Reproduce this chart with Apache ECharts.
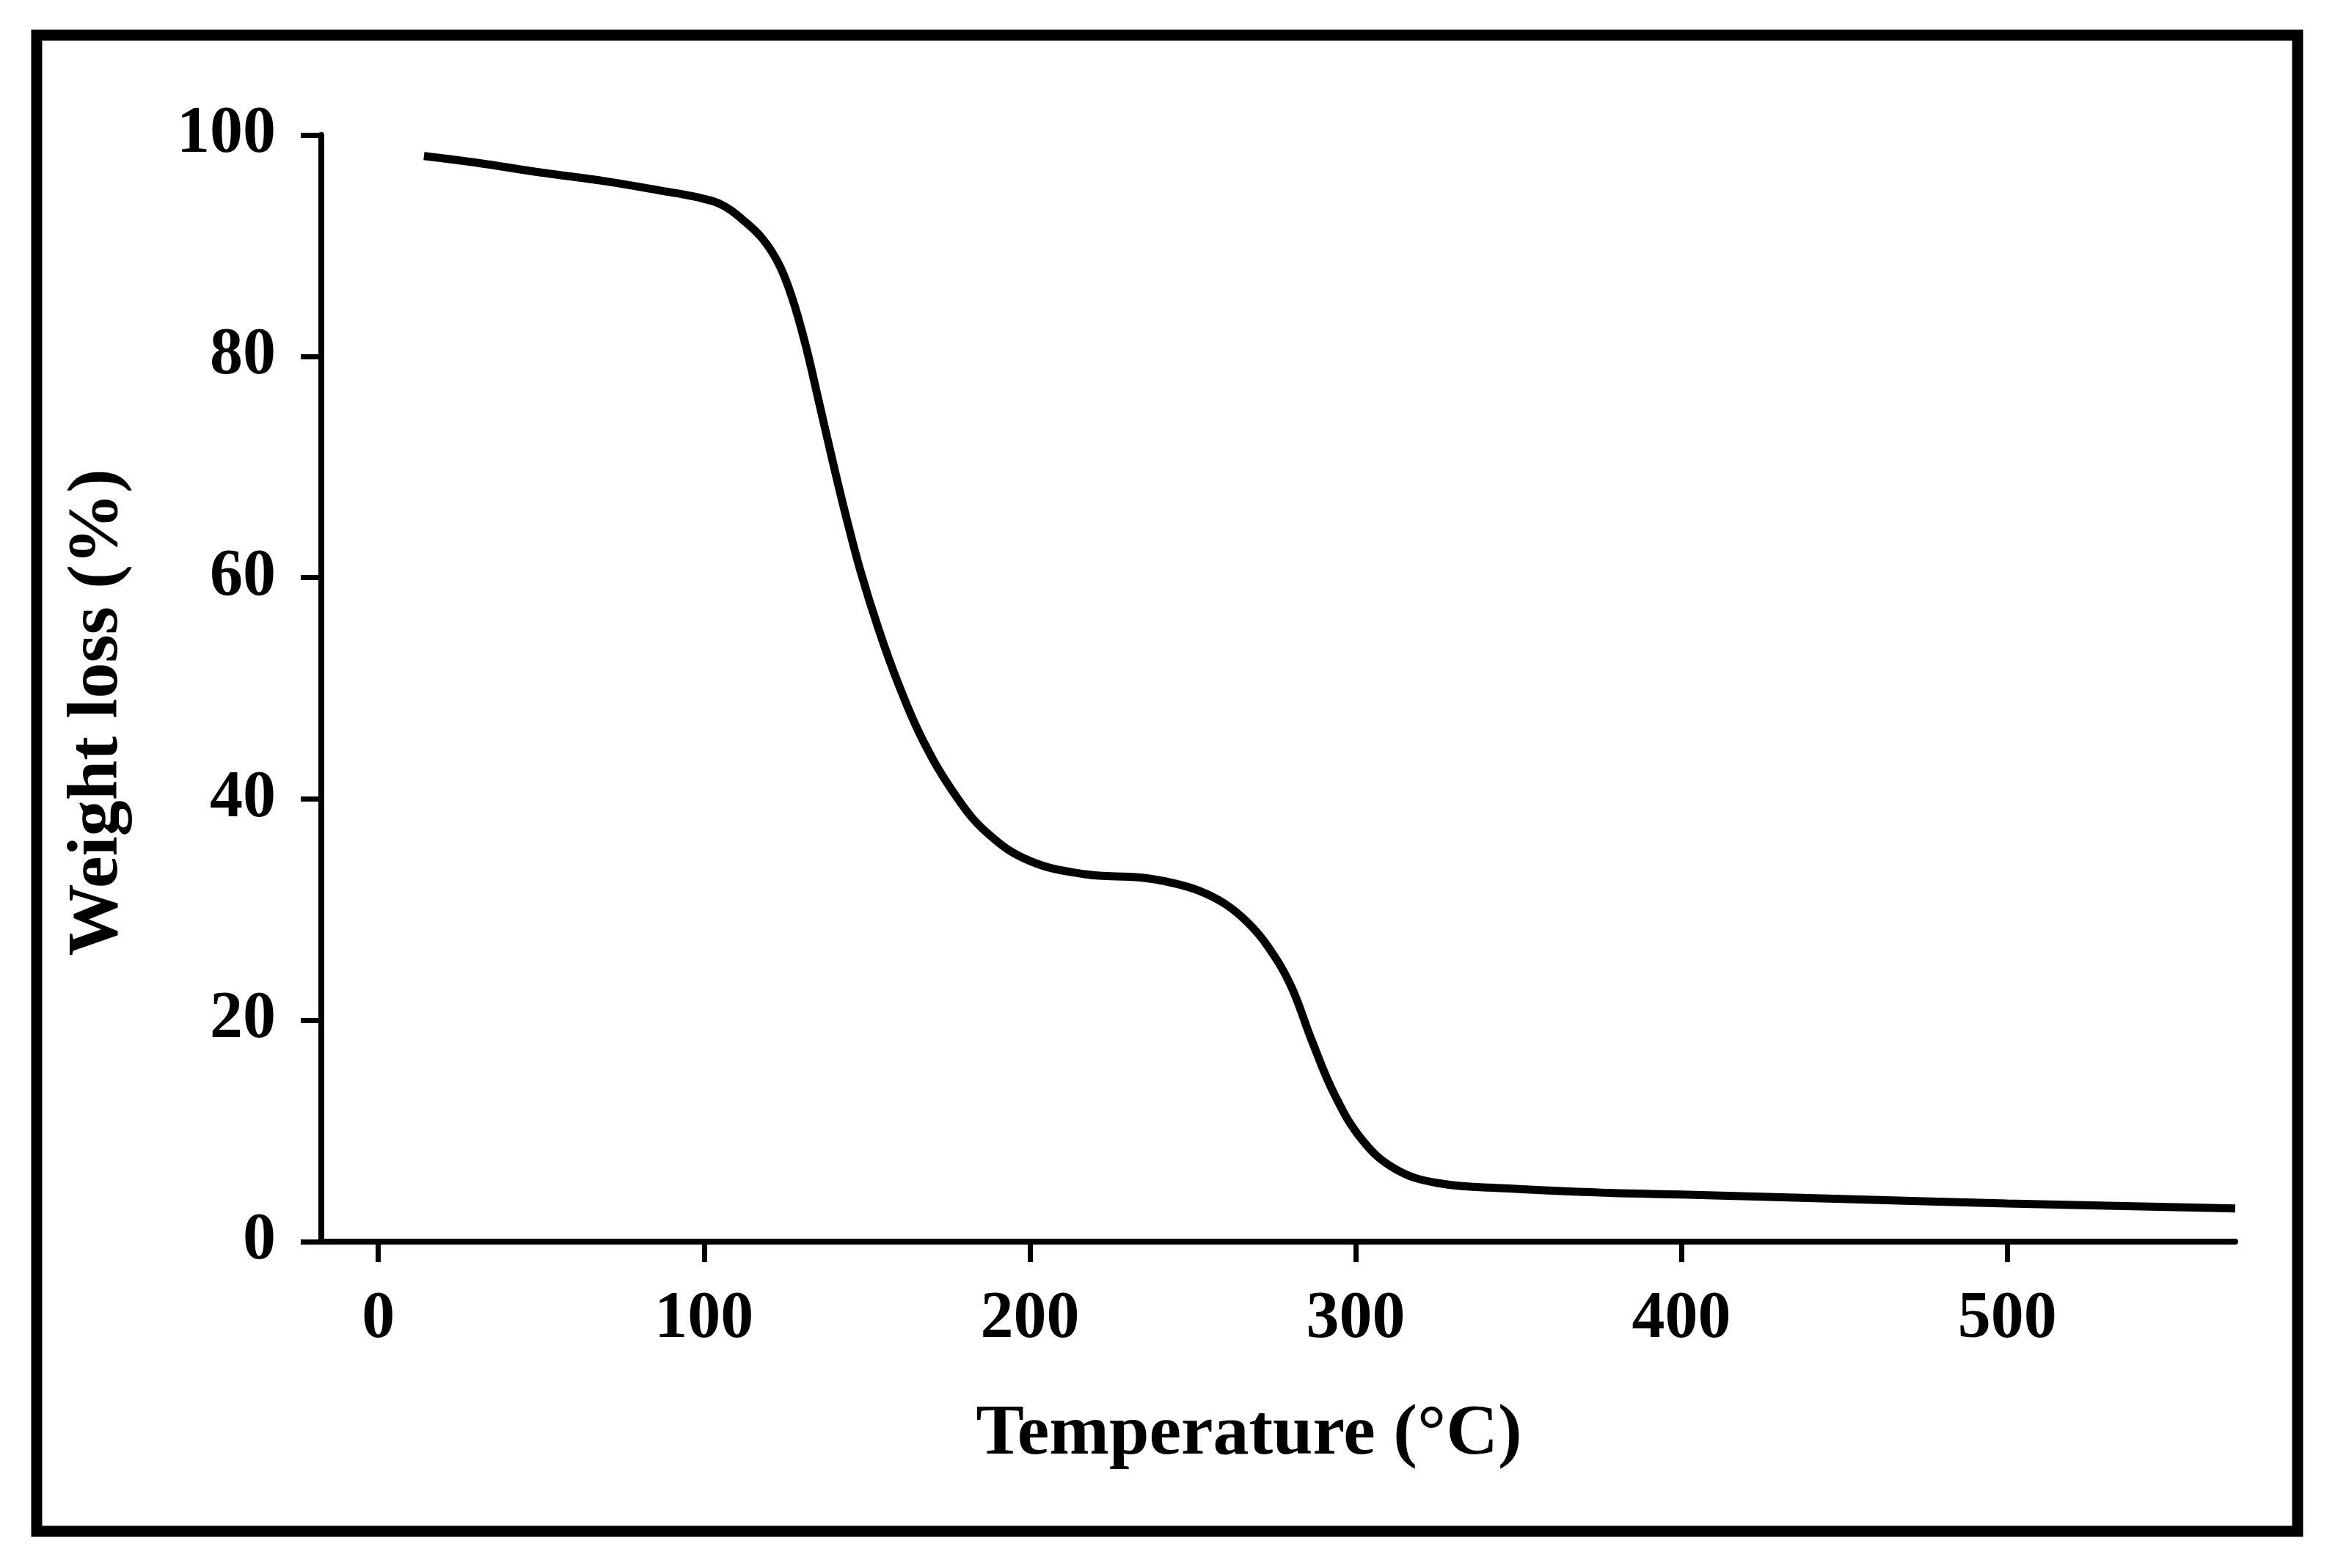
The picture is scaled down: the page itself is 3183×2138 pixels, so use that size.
<!DOCTYPE html>
<html>
<head>
<meta charset="utf-8">
<script src="https://cdn.jsdelivr.net/npm/echarts@6/dist/echarts.min.js"></script>
<style>
html,body{margin:0;padding:0;background:#fff;}
#chart{width:3183px;height:2138px;}
</style>
</head>
<body>
<div id="chart"></div>
<script>
// Temperature (°C)
var temperature = [14, 30, 50, 70, 86, 99, 106, 112, 118, 123, 127, 131, 135, 139, 143, 148, 153.5, 159.5, 167, 177, 187, 200, 217, 234, 244, 252, 260, 267, 273, 280, 286.5, 293.5, 302, 312, 325, 347, 378, 400, 445, 500, 570];
// Weight loss (%)
var weight = [98.1, 97.5, 96.6, 95.8, 95.0, 94.3, 93.6, 92.3, 90.6, 88.3, 85.3, 81.2, 76.2, 71.1, 66.2, 60.6, 55.4, 50.5, 45.4, 40.4, 36.9, 34.4, 33.2, 32.9, 32.4, 31.7, 30.5, 28.8, 26.7, 23.2, 18.2, 13.3, 9.2, 6.6, 5.3, 4.8, 4.4, 4.25, 3.9, 3.45, 3.0];
var xTicks = [0, 100, 200, 300, 400, 500];
var yTicks = [0, 20, 40, 60, 80, 100];

var points = temperature.map(function (t, i) { return [t, weight[i]]; });
var FONT = 'Liberation Serif';

var chart = echarts.init(document.getElementById('chart'), null, {renderer: 'canvas'});
chart.setOption({
  backgroundColor: '#ffffff',
  animation: false,
  graphic: [{
    type: 'rect',
    shape: {x: 50, y: 48, width: 3082, height: 2040},
    style: {fill: 'none', stroke: '#000', lineWidth: 15},
    silent: true
  }],
  grid: {left: 438, right: 136, top: 184, bottom: 445, containLabel: false},
  xAxis: {
    type: 'value',
    min: -17.5,
    max: 570,
    name: 'Temperature (°C)',
    nameLocation: 'middle',
    nameGap: 215,
    nameTextStyle: {fontFamily: FONT, fontWeight: 'bold', fontSize: 98, color: '#000', padding: [0, 80, 0, 0]},
    axisLine: {onZero: false, lineStyle: {color: '#000', width: 8}},
    axisTick: {show: true, inside: false, length: 28, customValues: xTicks, lineStyle: {color: '#000', width: 7}},
    axisLabel: {customValues: xTicks, margin: 62, fontFamily: FONT, fontWeight: 'bold', fontSize: 90, color: '#000'},
    splitLine: {show: false}
  },
  yAxis: {
    type: 'value',
    min: 0,
    max: 100,
    interval: 20,
    name: 'Weight loss (%)',
    nameLocation: 'middle',
    nameGap: 255,
    nameRotate: 90,
    nameTextStyle: {fontFamily: FONT, fontWeight: 'bold', fontSize: 98, color: '#000', padding: [0, 66, 0, 0]},
    axisLine: {show: true, onZero: false, lineStyle: {color: '#000', width: 8}},
    axisTick: {show: true, inside: false, length: 28, lineStyle: {color: '#000', width: 7}},
    axisLabel: {margin: 62, fontFamily: FONT, fontWeight: 'bold', fontSize: 90, color: '#000'},
    splitLine: {show: false}
  },
  series: [{
    type: 'line',
    data: points,
    smooth: 0.4,
    showSymbol: false,
    lineStyle: {color: '#000', width: 11},
    clip: false
  }]
});
</script>
</body>
</html>
